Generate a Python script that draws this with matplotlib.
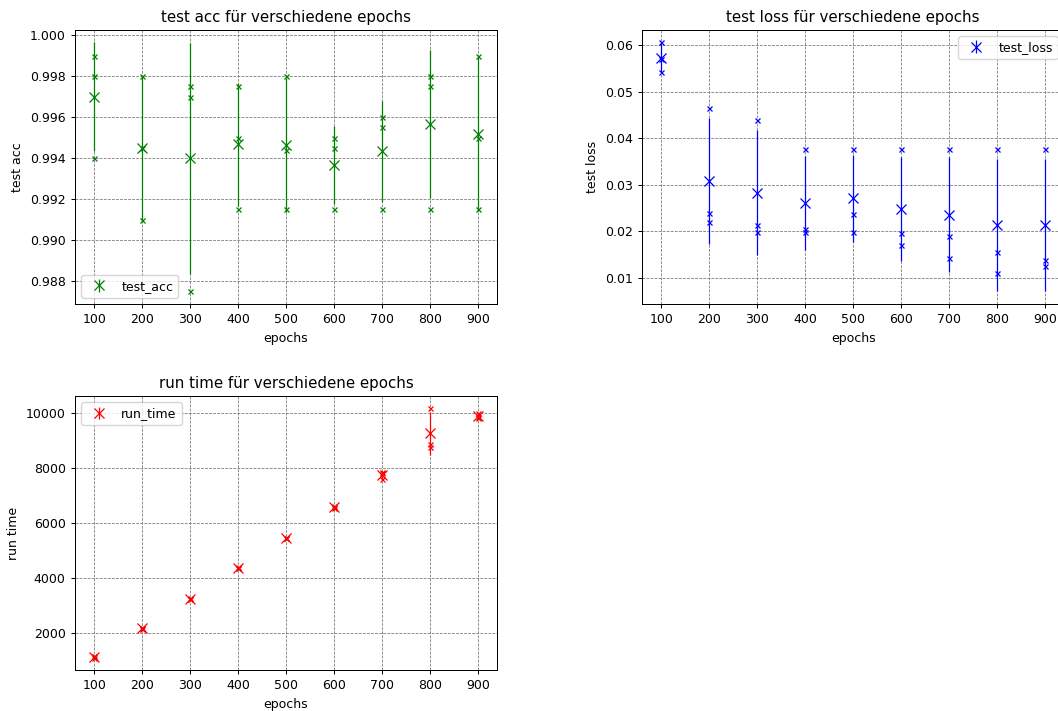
import matplotlib
matplotlib.use("Agg")
import matplotlib.pyplot as plt
import numpy as np

epochs = [100, 200, 300, 400, 500, 600, 700, 800, 900]

# three runs per epoch count
test_acc = [
    [0.999, 0.998, 0.994],
    [0.998, 0.9945, 0.991],
    [0.9975, 0.997, 0.9875],
    [0.9975, 0.995, 0.9915],
    [0.998, 0.9944, 0.9915],
    [0.995, 0.9945, 0.9915],
    [0.996, 0.9955, 0.9915],
    [0.998, 0.9975, 0.9915],
    [0.999, 0.995, 0.9915],
]

test_loss = [
    [0.0606, 0.0570, 0.0543],
    [0.0465, 0.0238, 0.0220],
    [0.0438, 0.0213, 0.0197],
    [0.0376, 0.0205, 0.0198],
    [0.0376, 0.0236, 0.0198],
    [0.0376, 0.0195, 0.0170],
    [0.0376, 0.0189, 0.0141],
    [0.0376, 0.0154, 0.0109],
    [0.0376, 0.0137, 0.0124],
]

run_time = [
    [1120, 1160, 1190],
    [2170, 2190, 2200],
    [3240, 3260, 3280],
    [4360, 4380, 4400],
    [5450, 5470, 5480],
    [6570, 6600, 6630],
    [7880, 7820, 7600],
    [10180, 8900, 8760],
    [10020, 9850, 9820],
]

# the original seems to be rendered a bit smaller than default
plt.rcParams['font.size'] = 9
plt.rcParams['axes.titlesize'] = 10.8
plt.rcParams['axes.linewidth'] = 0.72
plt.rcParams['xtick.major.width'] = 0.72
plt.rcParams['ytick.major.width'] = 0.72
plt.rcParams['xtick.major.size'] = 3.2
plt.rcParams['ytick.major.size'] = 3.2


def draw_runs(ax, values, color, label, ylabel, title):
    values = np.array(values)
    for i, ep in enumerate(epochs):
        ax.plot([ep] * len(values[i]), values[i], 'x', color=color,
                markersize=3.6, markeredgewidth=0.9)
    mean = values.mean(axis=1)
    std = values.std(axis=1, ddof=1)
    ax.errorbar(epochs, mean, yerr=std, fmt='x', color=color, markersize=7.2,
                markeredgewidth=0.9, elinewidth=0.9, label=label)
    ax.set_xticks(epochs)
    ax.set_xlabel("epochs")
    ax.set_ylabel(ylabel)
    ax.set_title(title)
    ax.grid(True, linestyle='--', color='0.45', linewidth=0.55)
    ax.legend()


fig, axs = plt.subplots(2, 2, figsize=(10.58, 7.11), dpi=100)
fig.subplots_adjust(left=0.0709, right=1.0057, top=0.958, bottom=0.0577,
                    wspace=0.344, hspace=0.336)

draw_runs(axs[0, 0], test_acc, 'g', 'test_acc', 'test acc', 'test acc für verschiedene epochs')
draw_runs(axs[0, 1], test_loss, 'b', 'test_loss', 'test loss', 'test loss für verschiedene epochs')
draw_runs(axs[1, 0], run_time, 'r', 'run_time', 'run time', 'run time für verschiedene epochs')
axs[1, 1].axis('off')

fig.savefig("out.png", dpi=100)
